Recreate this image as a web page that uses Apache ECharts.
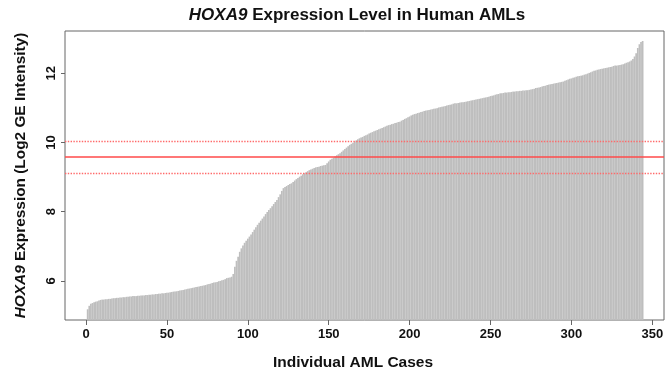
<!DOCTYPE html>
<html>
<head>
<meta charset="utf-8">
<script src="https://cdn.jsdelivr.net/npm/echarts@6/dist/echarts.min.js"></script>
<style>
    html, body { margin: 0; padding: 0; background: #fff; }
    #chart { width: 666px; height: 373px; }
</style>
</head>
<body>
<div id="chart"></div>
<script>
// HOXA9 expression per AML case, sorted ascending
var hoxa9 = [
    5.18, 5.28, 5.34, 5.36, 5.38, 5.40, 5.41, 5.43, 5.45, 5.46,
    5.46, 5.47, 5.47, 5.48, 5.48, 5.49, 5.50, 5.50, 5.51, 5.51,
    5.52, 5.52, 5.53, 5.53, 5.54, 5.54, 5.55, 5.55, 5.56, 5.56,
    5.56, 5.57, 5.57, 5.58, 5.58, 5.58, 5.59, 5.59, 5.60, 5.60,
    5.61, 5.61, 5.62, 5.62, 5.63, 5.63, 5.64, 5.64, 5.65, 5.66,
    5.66, 5.67, 5.68, 5.69, 5.69, 5.70, 5.71, 5.72, 5.73, 5.74,
    5.75, 5.76, 5.77, 5.78, 5.79, 5.80, 5.81, 5.82, 5.83, 5.84,
    5.85, 5.86, 5.87, 5.88, 5.90, 5.91, 5.92, 5.94, 5.95, 5.96,
    5.97, 5.99, 6.00, 6.02, 6.03, 6.05, 6.08, 6.09, 6.10, 6.12,
    6.20, 6.41, 6.58, 6.70, 6.84, 6.94, 7.02, 7.10, 7.16, 7.22,
    7.28, 7.34, 7.41, 7.48, 7.55, 7.62, 7.68, 7.74, 7.80, 7.86,
    7.93, 7.99, 8.05, 8.10, 8.16, 8.22, 8.28, 8.34, 8.42, 8.50,
    8.60, 8.68, 8.71, 8.74, 8.77, 8.80, 8.82, 8.86, 8.90, 8.94,
    8.97, 9.01, 9.04, 9.08, 9.11, 9.14, 9.17, 9.20, 9.22, 9.24,
    9.26, 9.28, 9.29, 9.30, 9.32, 9.33, 9.34, 9.35, 9.40, 9.45,
    9.50, 9.53, 9.56, 9.60, 9.63, 9.66, 9.69, 9.73, 9.77, 9.81,
    9.85, 9.89, 9.93, 9.96, 9.99, 10.03, 10.06, 10.09, 10.12, 10.14,
    10.16, 10.19, 10.21, 10.23, 10.26, 10.28, 10.30, 10.32, 10.34, 10.36,
    10.38, 10.40, 10.42, 10.44, 10.46, 10.48, 10.50, 10.51, 10.53, 10.54,
    10.56, 10.57, 10.59, 10.60, 10.63, 10.65, 10.68, 10.70, 10.73, 10.75,
    10.78, 10.80, 10.82, 10.83, 10.85, 10.86, 10.88, 10.89, 10.91, 10.92,
    10.93, 10.94, 10.95, 10.96, 10.97, 10.98, 10.99, 11.01, 11.02, 11.03,
    11.04, 11.05, 11.07, 11.08, 11.09, 11.10, 11.12, 11.13, 11.13, 11.14,
    11.15, 11.16, 11.16, 11.17, 11.18, 11.19, 11.20, 11.21, 11.22, 11.23,
    11.24, 11.25, 11.26, 11.27, 11.28, 11.29, 11.30, 11.31, 11.32, 11.34,
    11.35, 11.36, 11.38, 11.39, 11.40, 11.42, 11.42, 11.43, 11.44, 11.44,
    11.45, 11.45, 11.46, 11.47, 11.47, 11.48, 11.48, 11.49, 11.49, 11.50,
    11.50, 11.51, 11.51, 11.52, 11.53, 11.54, 11.55, 11.57, 11.58, 11.59,
    11.60, 11.62, 11.63, 11.64, 11.66, 11.67, 11.68, 11.69, 11.70, 11.71,
    11.72, 11.73, 11.74, 11.75, 11.76, 11.78, 11.80, 11.82, 11.84, 11.85,
    11.87, 11.88, 11.90, 11.91, 11.92, 11.93, 11.94, 11.96, 11.97, 11.99,
    12.01, 12.03, 12.05, 12.07, 12.08, 12.10, 12.11, 12.12, 12.13, 12.14,
    12.15, 12.16, 12.17, 12.18, 12.19, 12.21, 12.22, 12.22, 12.23, 12.24,
    12.25, 12.26, 12.28, 12.30, 12.32, 12.34, 12.37, 12.41, 12.48, 12.58,
    12.73, 12.84, 12.90, 12.93
];

var xTicks = [0, 50, 100, 150, 200, 250, 300, 350];
var yTicks = [6, 8, 10, 12];
// mean (solid) and the two dotted bounds
var meanLine = 9.59;
var boundLines = [10.04, 9.12];

var barData = hoxa9.map(function (v, i) { return [i + 1, v]; });

var font = 'Liberation Sans, Arial, Helvetica, sans-serif';
var chart = echarts.init(document.getElementById('chart'), null, { renderer: 'canvas' });

chart.setOption({
    animation: false,
    backgroundColor: '#fff',
    textStyle: { fontFamily: font },
    title: {
        text: '{i|HOXA9} Expression Level in Human AMLs',
        left: 352,
        textAlign: 'center',
        top: 2,
        textStyle: {
            fontSize: 17,
            fontWeight: 'bold',
            color: '#111',
            rich: {
                i: { fontSize: 17, fontWeight: 'bold', fontStyle: 'italic', color: '#111' }
            }
        }
    },
    grid: {
        left: 65,
        right: 2,
        top: 31,
        bottom: 53,
        outerBoundsMode: 'none',
        show: true,
        borderColor: '#666',
        borderWidth: 1,
        backgroundColor: 'transparent'
    },
    xAxis: {
        type: 'value',
        min: -13,
        max: 357.2,
        name: 'Individual AML Cases',
        nameLocation: 'middle',
        nameGap: 35,
        nameTextStyle: { fontSize: 15.5, fontWeight: 'bold', color: '#111', padding: [0, 23, 0, 0] },
        axisLine: { show: false, onZero: false },
        axisTick: { show: true, length: 5, lineStyle: { color: '#666' }, customValues: xTicks },
        axisLabel: { fontSize: 13, fontWeight: 'bold', color: '#111', margin: 8, customValues: xTicks },
        splitLine: { show: false }
    },
    yAxis: {
        type: 'value',
        min: 4.87,
        max: 13.22,
        name: '{i|HOXA9} Expression (Log2 GE Intensity)',
        nameLocation: 'middle',
        nameRotate: 90,
        nameGap: 37,
        nameTextStyle: {
            fontSize: 15.4,
            fontWeight: 'bold',
            color: '#111',
            rich: {
                i: { fontSize: 15.4, fontWeight: 'bold', fontStyle: 'italic', color: '#111' }
            }
        },
        axisLine: { show: false, onZero: false },
        axisTick: { show: true, length: 4, lineStyle: { color: '#666' }, customValues: yTicks },
        axisLabel: { fontSize: 13, fontWeight: 'bold', color: '#111', rotate: 90, margin: 7, customValues: yTicks },
        splitLine: { show: false }
    },
    series: [
        {
            type: 'bar',
            data: barData,
            barWidth: 1.7,
            itemStyle: { color: '#bebebe' },
            markLine: {
                silent: true,
                symbol: 'none',
                label: { show: false },
                data: [
                    { yAxis: meanLine, lineStyle: { type: 'solid', width: 1.6, color: '#ff4a4a' } },
                    { yAxis: boundLines[0], lineStyle: { type: 'dotted', width: 1.4, color: '#ff6a6a' } },
                    { yAxis: boundLines[1], lineStyle: { type: 'dotted', width: 1.4, color: '#ff6a6a' } }
                ]
            }
        }
    ]
});
</script>
</body>
</html>
